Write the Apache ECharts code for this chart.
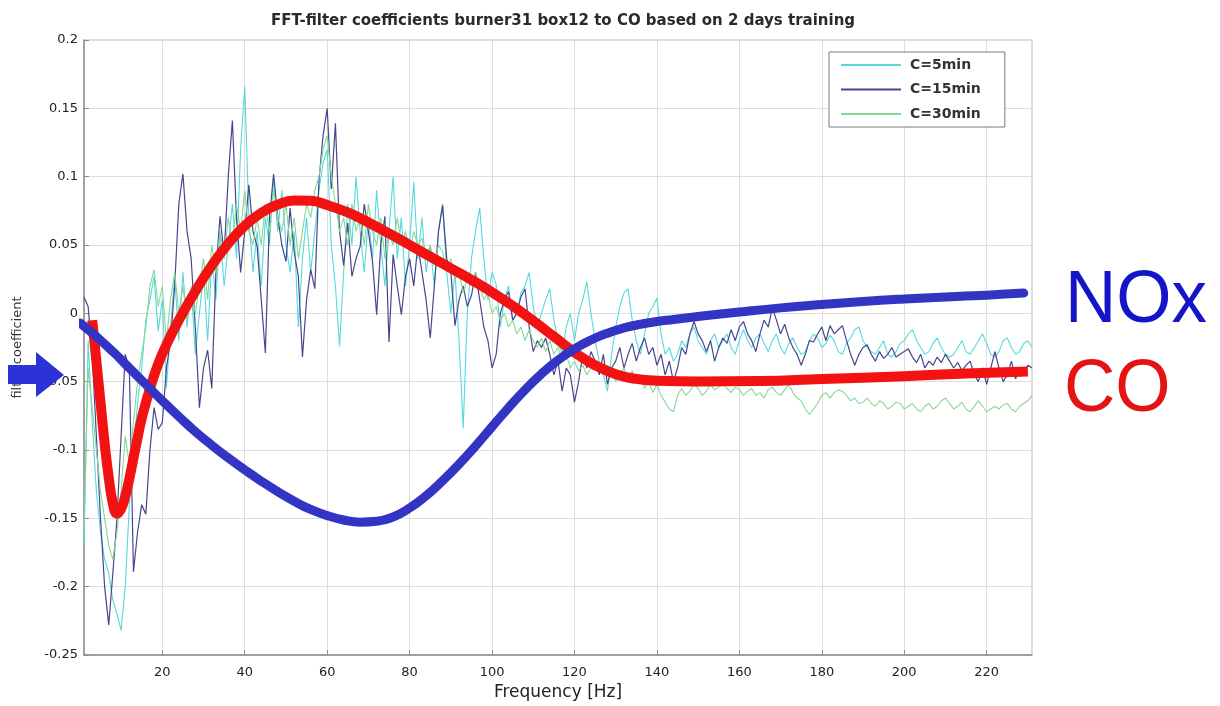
<!DOCTYPE html>
<html>
<head>
<meta charset="utf-8">
<script src="https://cdn.jsdelivr.net/npm/echarts@6/dist/echarts.min.js"></script>
<style>
html,body{margin:0;padding:0;background:#fff;}
#chart{width:1220px;height:706px;}
</style>
</head>
<body>
<div id="chart"></div>
<script>
// ---------- DATA ----------
const titleText = 'FFT-filter coefficients burner31 box12 to CO based on 2 days training';
const xTickValues = [20, 40, 60, 80, 100, 120, 140, 160, 180, 200, 220];
const seriesNames = ['C=5min', 'C=15min', 'C=30min'];

// thin lines: one value per Hz, starting at 1 Hz
const c5min = [
 -0.17, -0.02, -0.08, -0.13, -0.16, -0.18, -0.19, -0.21, -0.22, -0.232,
 -0.2, -0.14, -0.1, -0.066, -0.04, -0.005, 0.01, 0.027, -0.013, 0.01,
 -0.055, -0.01, 0.027, -0.02, 0.03, -0.01, 0.02, -0.03, 0.0, 0.03,
 -0.02, 0.04, 0.01, 0.06, 0.02, 0.05, 0.08, 0.04, 0.12, 0.166,
 0.07, 0.03, 0.06, 0.02, 0.07, 0.05, 0.1, 0.06, 0.09, 0.05,
 0.03, 0.06, -0.01, 0.04, 0.07, 0.03, 0.06, 0.09, 0.11, 0.12,
 0.05, 0.02, -0.024, 0.03, 0.08, 0.05, 0.1, 0.06, 0.03, 0.07,
 0.04, 0.09, 0.05, 0.02, 0.06, 0.1, 0.04, 0.07, 0.02, 0.05,
 0.096, 0.04, 0.07, 0.03, 0.05, 0.02, 0.06, 0.08, 0.03, 0.0,
 0.03, -0.02, -0.084, 0.0, 0.04, 0.06, 0.077, 0.04, 0.01, 0.03,
 0.021, -0.01, 0.01, 0.02, -0.005, 0.0, 0.015, 0.02, 0.03, 0.005,
 -0.01, 0.0, 0.01, 0.018, -0.005, -0.02, -0.03, -0.01, 0.0, -0.02,
 0.0, 0.01, 0.023, 0.0, -0.02, -0.035, -0.045, -0.057, -0.03, -0.01,
 0.005, 0.015, 0.018, -0.005, -0.02, -0.03, -0.015, 0.0, 0.005, 0.011,
 -0.015, -0.03, -0.025, -0.035, -0.03, -0.02, -0.025, -0.015, -0.01, -0.02,
 -0.025, -0.03, -0.02, -0.015, -0.025, -0.02, -0.015, -0.025, -0.03, -0.02,
 -0.012, -0.02, -0.025, -0.018, -0.015, -0.022, -0.028, -0.02, -0.015, -0.025,
 -0.03, -0.022, -0.018, -0.025, -0.03, -0.028, -0.02, -0.015, -0.018, -0.025,
 -0.022, -0.016, -0.02, -0.028, -0.03, -0.022, -0.018, -0.012, -0.01, -0.02,
 -0.025, -0.028, -0.03, -0.025, -0.02, -0.03, -0.032, -0.028, -0.022, -0.02,
 -0.015, -0.012, -0.02, -0.025, -0.03, -0.028, -0.022, -0.018, -0.025, -0.03,
 -0.032, -0.03, -0.025, -0.02, -0.028, -0.03, -0.025, -0.02, -0.015, -0.022,
 -0.03, -0.032, -0.028, -0.02, -0.018, -0.025, -0.03, -0.028, -0.022, -0.02,
 -0.025
];
const c15min = [
 0.012, 0.005, -0.03, -0.09, -0.15, -0.2, -0.228, -0.19, -0.15, -0.09,
 -0.03, -0.04, -0.189, -0.16, -0.14, -0.147, -0.1, -0.069, -0.085, -0.08,
 -0.04, -0.02, 0.02, 0.08, 0.102, 0.06, 0.04, -0.01, -0.069, -0.04,
 -0.027, -0.055, 0.03, 0.071, 0.043, 0.1, 0.141, 0.07, 0.03, 0.06,
 0.094, 0.06, 0.049, 0.01, -0.029, 0.07, 0.102, 0.071, 0.05, 0.038,
 0.077, 0.045, 0.027, -0.032, 0.01, 0.032, 0.018, 0.097, 0.13, 0.15,
 0.091, 0.139, 0.06, 0.035, 0.066, 0.027, 0.04, 0.049, 0.08, 0.06,
 0.038, -0.001, 0.05, 0.071, -0.021, 0.043, 0.02, -0.001, 0.027, 0.04,
 0.02, 0.05, 0.03, 0.01, -0.018, 0.02, 0.06, 0.079, 0.04, 0.03,
 -0.009, 0.01, 0.02, 0.005, 0.013, 0.03, 0.01, -0.01, -0.02, -0.04,
 -0.03, 0.0, 0.01, 0.016, -0.005, 0.0, 0.012, 0.018, -0.01, -0.028,
 -0.02, -0.025, -0.018, -0.03, -0.045, -0.035, -0.057, -0.04, -0.045, -0.065,
 -0.05, -0.03, -0.04, -0.028, -0.035, -0.045, -0.03, -0.052, -0.04, -0.035,
 -0.025, -0.04, -0.03, -0.022, -0.035, -0.025, -0.018, -0.03, -0.025, -0.038,
 -0.03, -0.045, -0.035, -0.05, -0.04, -0.025, -0.03, -0.015, -0.006, -0.015,
 -0.02, -0.028, -0.02, -0.035, -0.025, -0.018, -0.022, -0.012, -0.02, -0.01,
 -0.006, -0.015, -0.02, -0.028, -0.015, -0.005, -0.01, 0.004, -0.005, -0.015,
 -0.008, -0.018, -0.025, -0.03, -0.038, -0.03, -0.02, -0.021, -0.015, -0.01,
 -0.02, -0.009, -0.015, -0.012, -0.009, -0.02, -0.03, -0.038, -0.03, -0.025,
 -0.023, -0.03, -0.035, -0.028, -0.033, -0.03, -0.025, -0.032, -0.03, -0.028,
 -0.026, -0.032, -0.036, -0.03, -0.04, -0.035, -0.038, -0.032, -0.036, -0.03,
 -0.035, -0.04, -0.036, -0.042, -0.038, -0.035, -0.045, -0.05, -0.04, -0.052,
 -0.04, -0.028, -0.04, -0.05, -0.045, -0.035, -0.048, -0.04, -0.045, -0.038,
 -0.04
];
const c30min = [
 -0.16, -0.04, -0.07, -0.1, -0.13, -0.15, -0.17, -0.18, -0.16, -0.13,
 -0.09, -0.11, -0.08, -0.05, -0.03, -0.01, 0.02, 0.032, 0.005, 0.02,
 -0.02, 0.01, 0.03, 0.0, 0.02, -0.005, 0.015, 0.0, 0.02, 0.04,
 0.01, 0.05, 0.03, 0.06, 0.04, 0.07, 0.05, 0.08, 0.06, 0.09,
 0.06, 0.05, 0.07, 0.05, 0.08, 0.06, 0.09, 0.07, 0.06, 0.08,
 0.05, 0.07, 0.04, 0.06, 0.08, 0.07, 0.09, 0.1, 0.12, 0.13,
 0.1, 0.08, 0.06, 0.07, 0.05, 0.08, 0.06, 0.07, 0.05, 0.08,
 0.06, 0.05, 0.07, 0.04, 0.06, 0.05, 0.07, 0.05, 0.06, 0.045,
 0.06, 0.05, 0.055, 0.04, 0.05, 0.035, 0.05, 0.045, 0.03, 0.04,
 0.025, 0.03, 0.015, 0.025, 0.02, 0.03, 0.02, 0.01, 0.015, 0.0,
 0.005, -0.005, 0.0, -0.01, -0.005, -0.015, -0.01, -0.02, -0.012, -0.02,
 -0.025, -0.018, -0.028, -0.02, -0.03, -0.025, -0.035, -0.03, -0.04, -0.035,
 -0.042, -0.038, -0.045, -0.04, -0.035, -0.04, -0.045, -0.038, -0.042, -0.05,
 -0.045, -0.04, -0.048, -0.042, -0.05, -0.045, -0.055, -0.05, -0.058, -0.052,
 -0.06, -0.065, -0.07, -0.072, -0.06, -0.055, -0.06, -0.057, -0.052, -0.055,
 -0.06, -0.057, -0.052, -0.056, -0.054, -0.05, -0.055, -0.058, -0.054, -0.056,
 -0.06, -0.057, -0.055, -0.06, -0.058, -0.062, -0.056, -0.054, -0.058, -0.06,
 -0.056, -0.052, -0.058, -0.062, -0.064, -0.07, -0.074, -0.07, -0.066, -0.06,
 -0.058, -0.062, -0.058, -0.056, -0.057, -0.06, -0.064, -0.062, -0.066, -0.065,
 -0.062, -0.066, -0.068, -0.064, -0.066, -0.07, -0.068, -0.065, -0.066, -0.07,
 -0.068, -0.066, -0.07, -0.072, -0.068, -0.066, -0.07, -0.068, -0.064, -0.062,
 -0.066, -0.07, -0.068, -0.065, -0.07, -0.072, -0.068, -0.064, -0.068, -0.072,
 -0.07, -0.068, -0.07, -0.067, -0.066, -0.07, -0.072, -0.068, -0.066, -0.064,
 -0.06
];

// thick annotation curves
const coFreq  = [3, 4, 5, 6, 7, 8, 9, 10, 11, 12, 13, 14, 15, 17, 19, 21, 24, 28, 32, 36, 40, 44, 48, 52, 56, 60, 65, 70, 75, 80, 85, 90, 95, 100, 105, 110, 115, 120, 125, 130, 135, 140, 150, 165, 180, 200, 215, 230];
const coValue = [-0.005, -0.035, -0.065, -0.095, -0.12, -0.139, -0.1465, -0.143, -0.134, -0.121, -0.106, -0.091, -0.077, -0.055, -0.037, -0.023, -0.005, 0.016, 0.035, 0.051, 0.064, 0.0735, 0.0795, 0.0825, 0.0823, 0.0792, 0.0738, 0.0665, 0.0585, 0.05, 0.0415, 0.033, 0.0245, 0.0155, 0.0055, -0.0055, -0.017, -0.0285, -0.038, -0.0445, -0.048, -0.0493, -0.0498, -0.0495, -0.048, -0.046, -0.044, -0.0425];
const noxFreq  = [0, 4, 8, 12, 16, 20, 24, 28, 32, 36, 40, 44, 48, 52, 56, 60, 64, 68, 72, 76, 80, 84, 88, 92, 96, 100, 104, 108, 112, 116, 120, 124, 128, 132, 136, 140, 144, 148, 152, 160, 170, 180, 190, 200, 210, 220, 229];
const noxValue = [-0.007, -0.017, -0.028, -0.04, -0.052, -0.064, -0.0755, -0.0865, -0.0965, -0.1058, -0.1145, -0.1228, -0.1305, -0.1375, -0.1435, -0.148, -0.1512, -0.1528, -0.1522, -0.149, -0.1425, -0.1335, -0.1225, -0.1103, -0.097, -0.083, -0.069, -0.056, -0.0443, -0.0343, -0.026, -0.0195, -0.0145, -0.0107, -0.008, -0.006, -0.0045, -0.003, -0.0016, 0.001, 0.004, 0.0065, 0.0087, 0.0105, 0.012, 0.0133, 0.0148];

// ---------- CHART ----------
const FONT = '"DejaVu Sans", Verdana, sans-serif';
const BIGFONT = '"Liberation Sans", Arial, Helvetica, sans-serif';
const toXY = arr => arr.map((v, i) => [i + 1, v]);
const zip = (xs, ys) => xs.map((x, i) => [x, ys[i]]);

const chart = echarts.init(document.getElementById('chart'), null, {renderer: 'canvas'});
const thinColors = ['#55d9dc', '#46468f', '#84d894'];
const thinWidths = [1.1, 1.2, 1.1];
const thinData = [c5min, c15min, c30min];
const drawOrder = [2, 0, 1];

const series = drawOrder.map(k => ({
  name: seriesNames[k],
  type: 'line',
  data: toXY(thinData[k]),
  symbol: 'none',
  showSymbol: false,
  lineStyle: {width: thinWidths[k], color: thinColors[k]},
  itemStyle: {color: thinColors[k]},
  z: 2 + k,
  animation: false
}));

series.push({
  name: 'CO',
  type: 'line',
  data: zip(coFreq, coValue),
  smooth: 0.5,
  symbol: 'none',
  lineStyle: {width: 10, color: '#f21212', cap: 'butt', join: 'round'},
  z: 10,
  animation: false
});
series.push({
  name: 'NOx',
  type: 'line',
  data: zip(noxFreq, noxValue),
  smooth: 0.5,
  symbol: 'none',
  clip: false,
  lineStyle: {width: 9, color: '#3434c4', cap: 'round', join: 'round'},
  z: 11,
  animation: false
});

const option = {
  backgroundColor: '#ffffff',
  animation: false,
  title: {
    text: titleText,
    left: 558,
    textAlign: 'center',
    top: 9,
    textStyle: {fontFamily: FONT, fontSize: 15, fontWeight: 'bold', color: '#2a2a2a'}
  },
  legend: {
    data: seriesNames,
    orient: 'vertical',
    left: 829,
    top: 52,
    itemWidth: 60,
    itemHeight: 14,
    itemGap: 10.5,
    padding: [6, 24, 6, 11],
    backgroundColor: '#ffffff',
    borderColor: '#7a7a7a',
    borderWidth: 1,
    borderRadius: 0,
    itemStyle: {opacity: 0},
    textStyle: {fontFamily: FONT, fontSize: 14, fontWeight: 'bold', color: '#333', padding: [0, 0, 0, 4]}
  },
  grid: {
    left: 84, right: 188, top: 40, bottom: 51,
    show: true, borderColor: '#bdbdbd', borderWidth: 1, backgroundColor: 'transparent'
  },
  xAxis: {
    type: 'value',
    min: 1,
    max: 231,
    name: 'Frequency [Hz]',
    nameLocation: 'middle',
    nameGap: 26,
    nameTextStyle: {fontFamily: FONT, fontSize: 17, color: '#222'},
    axisLine: {show: true, onZero: false, lineStyle: {color: '#8c8c8c', width: 1.5}},
    axisTick: {show: true, inside: true, length: 5, customValues: xTickValues, lineStyle: {color: '#8c8c8c'}},
    axisLabel: {customValues: xTickValues, margin: 11, fontFamily: FONT, fontSize: 13, color: '#222'},
    splitLine: {show: true, lineStyle: {color: '#dedede', width: 1}}
  },
  yAxis: {
    type: 'value',
    min: -0.25,
    max: 0.2,
    interval: 0.05,
    name: 'filter coefficient',
    nameLocation: 'middle',
    nameRotate: 90,
    nameGap: 60,
    nameTextStyle: {fontFamily: FONT, fontSize: 13, color: '#333'},
    axisLine: {show: true, onZero: false, lineStyle: {color: '#8c8c8c', width: 1.5}},
    axisTick: {show: true, inside: true, length: 5, lineStyle: {color: '#8c8c8c'}},
    axisLabel: {
      margin: 6, fontFamily: FONT, fontSize: 13, color: '#222',
      formatter: v => String(Math.round(v * 100) / 100)
    },
    splitLine: {show: true, lineStyle: {color: '#dedede', width: 1}}
  },
  graphic: [
    {
      type: 'polygon',
      z: 100,
      shape: {points: [[8, 365], [36, 365], [36, 352], [64, 375], [36, 397], [36, 384], [8, 384]]},
      style: {fill: '#2c33d6'}
    },
    {
      type: 'text',
      z: 100,
      x: 1065, y: 302, scaleX: 0.96,
      style: {text: 'NOx', fill: '#1414c8', font: '74px ' + BIGFONT, verticalAlign: 'middle', align: 'left'}
    },
    {
      type: 'text',
      z: 100,
      x: 1064, y: 391, scaleX: 0.96,
      style: {text: 'CO', fill: '#e41414', font: '74px ' + BIGFONT, verticalAlign: 'middle', align: 'left'}
    }
  ],
  series: series
};
chart.setOption(option);
</script>
</body>
</html>
